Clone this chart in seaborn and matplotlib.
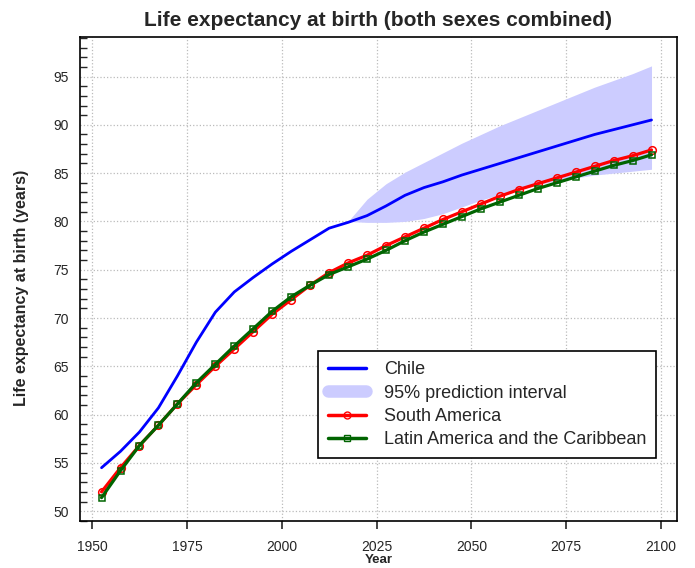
import matplotlib
matplotlib.use("Agg")
import matplotlib.pyplot as plt
from matplotlib.lines import Line2D
from matplotlib.ticker import MultipleLocator
import pandas as pd
import seaborn as sns

# five-year period midpoints
years = [1952.5 + 5 * i for i in range(30)]

chile = [54.5, 56.2, 58.2, 60.7, 64.0, 67.5, 70.6, 72.7, 74.2, 75.6,
         76.9, 78.1, 79.3, 79.9, 80.6, 81.6, 82.7, 83.5, 84.1, 84.8,
         85.4, 86.0, 86.6, 87.2, 87.8, 88.4, 89.0, 89.5, 90.0, 90.5]

south_america = [52.0, 54.5, 56.8, 58.9, 61.1, 63.1, 65.0, 66.8, 68.6, 70.4,
                 71.9, 73.4, 74.7, 75.7, 76.5, 77.5, 78.4, 79.3, 80.2, 81.0,
                 81.8, 82.6, 83.3, 83.9, 84.5, 85.1, 85.7, 86.3, 86.8, 87.4]

latin_america = [51.4, 54.2, 56.8, 58.9, 61.1, 63.3, 65.2, 67.1, 68.9, 70.7,
                 72.2, 73.4, 74.5, 75.3, 76.1, 77.0, 78.0, 78.9, 79.7, 80.5,
                 81.3, 82.0, 82.7, 83.4, 84.0, 84.6, 85.2, 85.8, 86.3, 86.9]

# 95% prediction interval for Chile, from 2017.5 on
pi_years = years[13:]
pi_upper = [80.0, 82.3, 83.9, 85.1, 86.1, 87.1, 88.1, 89.0, 89.9, 90.7,
            91.5, 92.3, 93.1, 93.9, 94.6, 95.3, 96.1]
pi_lower = [80.0, 79.9, 79.9, 80.0, 80.3, 80.8, 81.5, 82.2, 82.8, 83.3,
            83.8, 84.2, 84.5, 84.8, 85.0, 85.2, 85.4]

df = pd.DataFrame({"Year": years, "Chile": chile,
                   "South America": south_america,
                   "Latin America": latin_america})

sns.set_style("ticks")
plt.rcParams["font.family"] = ["Liberation Sans", "DejaVu Sans"]

fig = plt.figure(figsize=(6.95, 5.68), dpi=100)
ax = fig.add_axes([0.115, 0.083, 0.859, 0.852])

band_color = "#ccccff"
ax.fill_between(pi_years, pi_lower, pi_upper, color=band_color, lw=0, zorder=1)

sns.lineplot(data=df, x="Year", y="Chile", color="blue", lw=2, ax=ax, zorder=3)
sns.lineplot(data=df, x="Year", y="South America", color="red", lw=2.3,
             marker="o", markersize=5.5, markerfacecolor="none",
             markeredgecolor="red", markeredgewidth=1.1, ax=ax, zorder=4)
sns.lineplot(data=df, x="Year", y="Latin America", color="darkgreen", lw=2.3,
             marker="s", markersize=5, markerfacecolor="none",
             markeredgecolor="darkgreen", markeredgewidth=1.1, ax=ax, zorder=5)

ax.set_xlim(1946.8, 2104.2)
ax.set_ylim(49.0, 99.1)
ax.set_xticks([1950, 1975, 2000, 2025, 2050, 2075, 2100])
ax.yaxis.set_major_locator(MultipleLocator(5))
ax.yaxis.set_minor_locator(MultipleLocator(1))
ax.set_yticks(range(50, 100, 5))
ax.tick_params(axis="x", labelsize=10, direction="out", length=6, width=1.2, pad=8)
ax.tick_params(axis="y", which="major", labelsize=10, direction="in", length=0, pad=8)
ax.tick_params(axis="y", which="minor", direction="in", length=5, width=1)

ax.grid(True, which="major", linestyle=":", color="#bbbbbb", lw=0.9)
for s in ax.spines.values():
    s.set_linewidth(1.2)
    s.set_color("black")

ax.set_title("Life expectancy at birth (both sexes combined)",
             fontsize=15, fontweight="bold", pad=8)
ax.set_ylabel("Life expectancy at birth (years)", fontsize=11.5, fontweight="bold")
ax.yaxis.set_label_coords(-0.085, 0.482)
ax.set_xlabel("Year", fontsize=9.5, fontweight="bold", labelpad=0)

handles = [
    Line2D([], [], color="blue", lw=2.5),
    Line2D([], [], color=band_color, lw=9, solid_capstyle="round"),
    Line2D([], [], color="red", lw=2.5, marker="o", markersize=5,
           markerfacecolor="none", markeredgecolor="red"),
    Line2D([], [], color="darkgreen", lw=2.5, marker="s", markersize=5,
           markerfacecolor="none", markeredgecolor="darkgreen"),
]
labels = ["Chile", "95% prediction interval", "South America",
          "Latin America and the Caribbean"]
leg = ax.legend(handles, labels, loc="upper left", bbox_to_anchor=(0.399, 0.35),
                fontsize=13, frameon=True, fancybox=False, framealpha=1,
                edgecolor="black", handlelength=2.1, handletextpad=1.0,
                borderpad=0.55, labelspacing=0.35, borderaxespad=0)
leg.get_frame().set_linewidth(1.2)

fig.savefig("out.png", dpi=100)
